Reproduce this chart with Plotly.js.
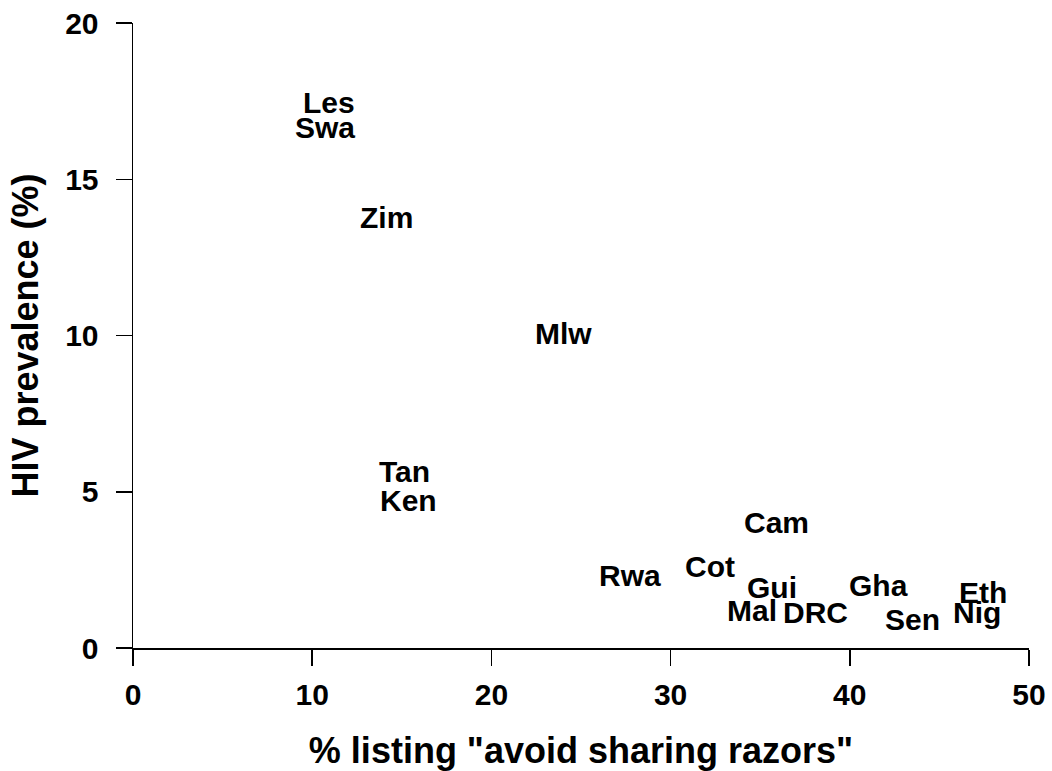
<!DOCTYPE html>
<html>
<head>
<meta charset="utf-8">
<script src="https://cdn.plot.ly/plotly-3.0.1.min.js"></script>
<style>
html,body{margin:0;padding:0;background:#fff;}
#chart{width:1052px;height:771px;}
</style>
</head>
<body>
<div id="chart"></div>
<script>
const countries = ["Les","Swa","Zim","Mlw","Tan","Ken","Rwa","Cot","Cam","Gui","Mal","DRC","Gha","Sen","Eth","Nig"];
const avoidRazors = [10.93,10.74,14.17,24.03,15.17,15.37,27.72,32.21,35.92,35.67,34.52,38.06,41.58,43.5,47.41,47.1];
const hivPrevalence = [17.45,16.67,13.78,10.05,5.64,4.73,2.31,2.62,4.02,1.93,1.2,1.14,1.99,0.92,1.77,1.13];
const xTicks = [0,10,20,30,40,50];
const yTicks = [0,5,10,15,20];

const FONT = "Liberation Sans, Arial, Helvetica, sans-serif";

const trace = {
  x: avoidRazors,
  y: hivPrevalence,
  mode: "markers",
  type: "scatter",
  marker: {size: 1, opacity: 0},
  hoverinfo: "none"
};

const annotations = countries.map((c, i) => ({
  x: avoidRazors[i],
  y: hivPrevalence[i],
  xref: "x",
  yref: "y",
  text: c,
  showarrow: false,
  xanchor: "center",
  yanchor: "middle",
  font: {family: FONT, size: 30, color: "#000", weight: 700}
}));

const layout = {
  width: 1052,
  height: 771,
  margin: {l: 133, r: 23, t: 23, b: 123, pad: 0},
  paper_bgcolor: "#fff",
  plot_bgcolor: "#fff",
  showlegend: false,
  font: {family: FONT, color: "#000", weight: 700},
  annotations: annotations,
  xaxis: {
    range: [0, 50],
    tickvals: xTicks,
    ticktext: xTicks.map(String),
    ticks: "outside",
    ticklen: 16,
    tickwidth: 1.5,
    tickcolor: "#000",
    showline: true,
    linecolor: "#000",
    linewidth: 1.5,
    showgrid: false,
    zeroline: false,
    ticklabelstandoff: 3,
    tickfont: {family: FONT, size: 30, color: "#000", weight: 700},
    title: {text: '% listing "avoid sharing razors"', font: {family: FONT, size: 36, color: "#000", weight: 700}, standoff: 30}
  },
  yaxis: {
    range: [0, 20],
    tickvals: yTicks,
    ticktext: yTicks.map(String),
    ticks: "outside",
    ticklen: 16,
    tickwidth: 1.5,
    tickcolor: "#000",
    showline: true,
    linecolor: "#000",
    linewidth: 1.5,
    showgrid: false,
    zeroline: false,
    ticklabelstandoff: 11,
    tickfont: {family: FONT, size: 30, color: "#000", weight: 700},
    title: {text: "HIV prevalence (%)", font: {family: FONT, size: 36, color: "#000", weight: 700}, standoff: 15}
  }
};

Plotly.newPlot("chart", [trace], layout, {staticPlot: true, displayModeBar: false});
</script>
</body>
</html>
